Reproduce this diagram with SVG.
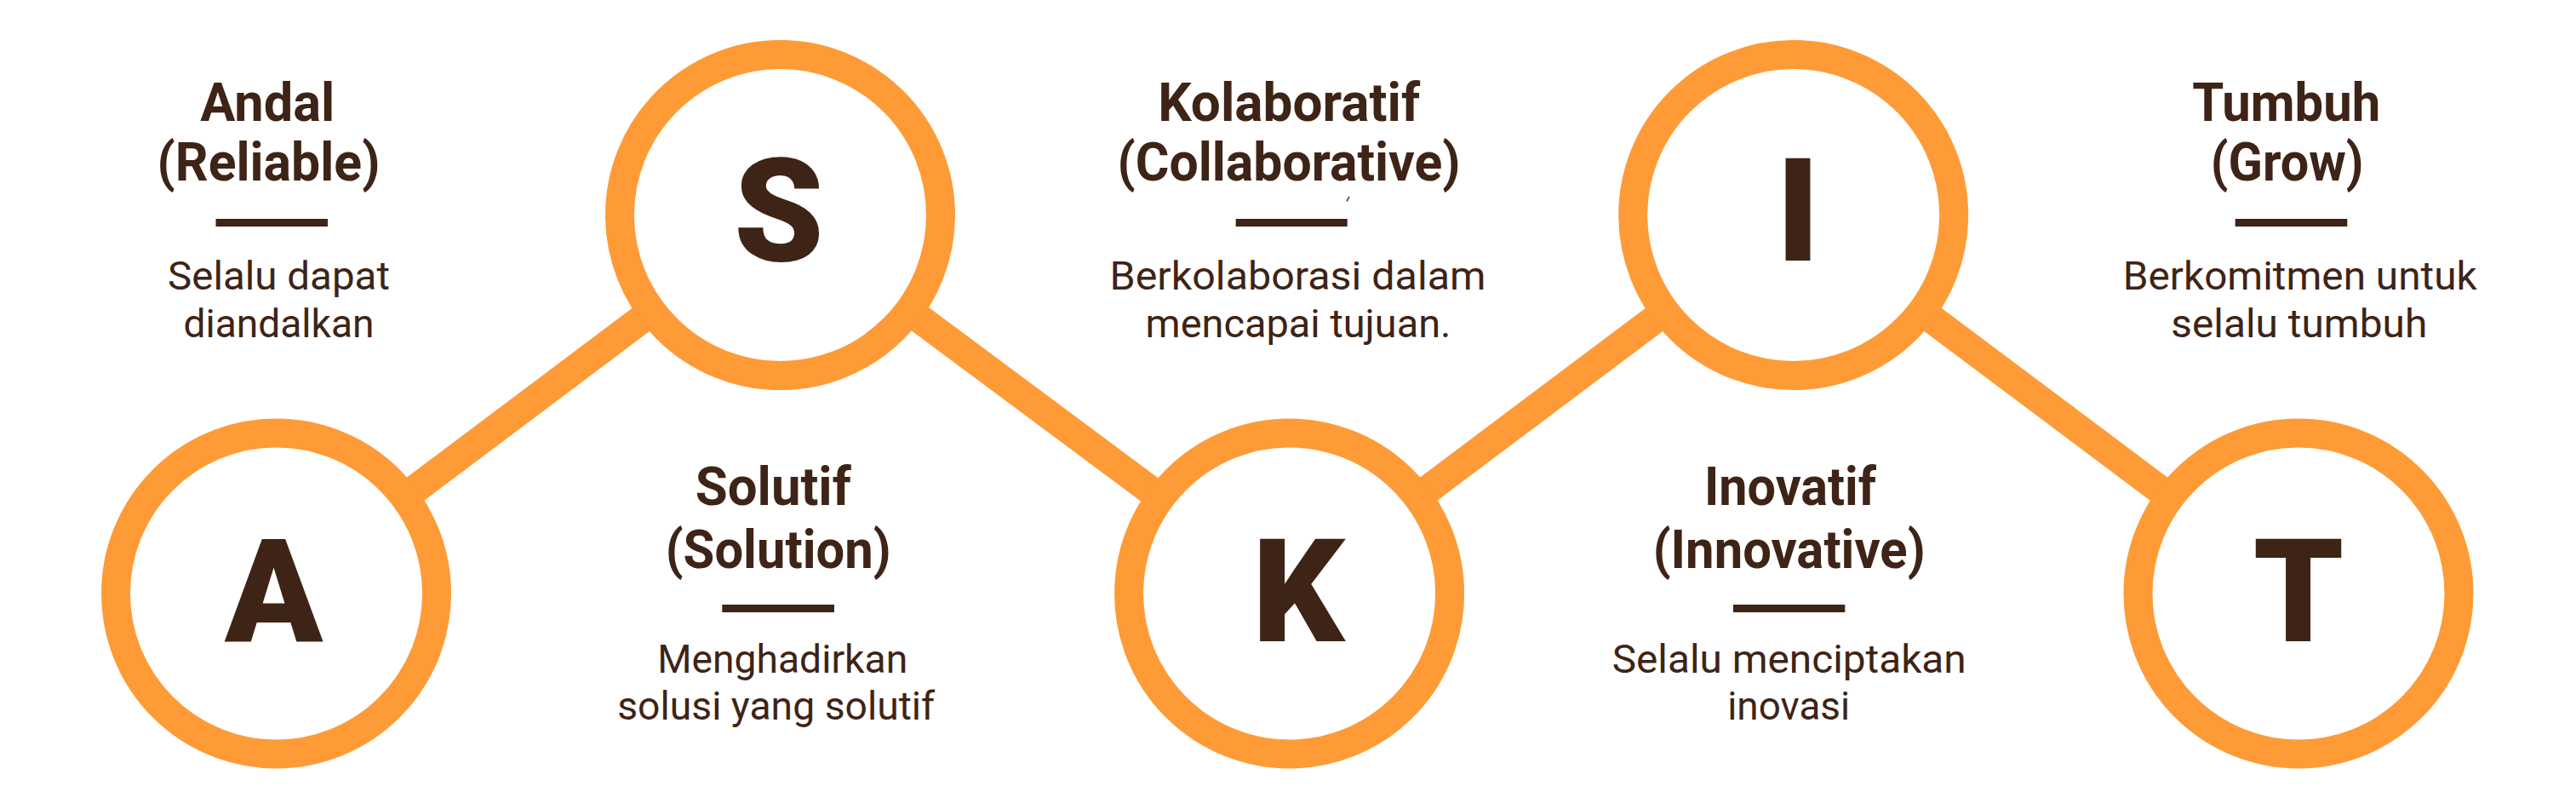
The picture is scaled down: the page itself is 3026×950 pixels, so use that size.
<svg xmlns="http://www.w3.org/2000/svg" width="3026" height="950" viewBox="0 0 3026 950">
<style>
.ring{fill:#ffffff;stroke:#FE9B37;stroke-width:34}
.conn{stroke:#FE9B37;stroke-width:34;fill:none}
.big{font-family:Roboto,"Liberation Sans",sans-serif;font-weight:900;font-size:169px;fill:#3E2416;text-anchor:middle}
.ttl{font-family:Roboto,"Liberation Sans",sans-serif;font-weight:700;font-size:63px;fill:#3E2416;text-anchor:middle}
.dsc{font-family:Roboto,"Liberation Sans",sans-serif;font-weight:400;font-size:46px;fill:#3E2416;text-anchor:middle}
.bar{fill:#3E2416}
</style>
<rect width="3026" height="950" fill="#ffffff"/>
<g id="connectors">
<line class="conn" x1="324.5" y1="697" x2="916.5" y2="252.6"/>
<line class="conn" x1="916.5" y1="252.6" x2="1514.6" y2="697"/>
<line class="conn" x1="1514.6" y1="697" x2="2106.7" y2="252.6"/>
<line class="conn" x1="2106.7" y1="252.6" x2="2700" y2="697"/>
</g>
<g id="node-A">
<circle class="ring" cx="324.5" cy="697" r="188.5"/>
<text class="big" x="321.5" y="753">A</text>
</g>
<g id="node-S">
<circle class="ring" cx="916.5" cy="252.6" r="188.5"/>
<text class="big" x="915" y="306">S</text>
</g>
<g id="node-K">
<circle class="ring" cx="1514.6" cy="697" r="188.5"/>
<text class="big" x="1525" y="753">K</text>
</g>
<g id="node-I">
<circle class="ring" cx="2106.7" cy="252.6" r="188.5"/>
<text class="big" x="2112" y="306">I</text>
</g>
<g id="node-T">
<circle class="ring" cx="2700" cy="697" r="188.5"/>
<text class="big" x="2700" y="753">T</text>
</g>
<g id="label-andal">
<text class="ttl" x="314.2" y="142" textLength="158" lengthAdjust="spacingAndGlyphs">Andal</text>
<text class="ttl" x="315.5" y="212" textLength="262" lengthAdjust="spacingAndGlyphs">(Reliable)</text>
<rect class="bar" x="253.5" y="257" width="131.5" height="9"/>
<text class="dsc" x="327.5" y="340" textLength="261" lengthAdjust="spacingAndGlyphs">Selalu dapat</text>
<text class="dsc" x="327.5" y="396" textLength="224" lengthAdjust="spacingAndGlyphs">diandalkan</text>
</g>
<g id="label-solutif">
<text class="ttl" x="908.3" y="593" textLength="183" lengthAdjust="spacingAndGlyphs">Solutif</text>
<text class="ttl" x="914.2" y="666.5" textLength="265" lengthAdjust="spacingAndGlyphs">(Solution)</text>
<rect class="bar" x="848.3" y="710" width="131.7" height="9"/>
<text class="dsc" x="919.2" y="790" textLength="294" lengthAdjust="spacingAndGlyphs">Menghadirkan</text>
<text class="dsc" x="911.7" y="845" textLength="373" lengthAdjust="spacingAndGlyphs">solusi yang solutif</text>
</g>
<g id="label-kolaboratif">
<text class="ttl" x="1514.2" y="142" textLength="308" lengthAdjust="spacingAndGlyphs">Kolaboratif</text>
<text class="ttl" x="1514" y="212" textLength="403" lengthAdjust="spacingAndGlyphs">(Collaborative)</text>
<path d="M1582 236.5 L1585 231" stroke="#3E2416" stroke-width="1.5" fill="none"/>
<rect class="bar" x="1451.7" y="257" width="131" height="9"/>
<text class="dsc" x="1524.5" y="340" textLength="442" lengthAdjust="spacingAndGlyphs">Berkolaborasi dalam</text>
<text class="dsc" x="1525" y="396" textLength="359" lengthAdjust="spacingAndGlyphs">mencapai tujuan.</text>
</g>
<g id="label-inovatif">
<text class="ttl" x="2103" y="593" textLength="202" lengthAdjust="spacingAndGlyphs">Inovatif</text>
<text class="ttl" x="2101.7" y="666.5" textLength="320" lengthAdjust="spacingAndGlyphs">(Innovative)</text>
<rect class="bar" x="2036" y="710" width="131.3" height="9"/>
<text class="dsc" x="2101.7" y="790" textLength="416" lengthAdjust="spacingAndGlyphs">Selalu menciptakan</text>
<text class="dsc" x="2101.2" y="845" textLength="144" lengthAdjust="spacingAndGlyphs">inovasi</text>
</g>
<g id="label-tumbuh">
<text class="ttl" x="2685.8" y="142" textLength="221" lengthAdjust="spacingAndGlyphs">Tumbuh</text>
<text class="ttl" x="2686.7" y="212" textLength="180" lengthAdjust="spacingAndGlyphs">(Grow)</text>
<rect class="bar" x="2625.7" y="257" width="131.6" height="9"/>
<text class="dsc" x="2701.7" y="340" textLength="416" lengthAdjust="spacingAndGlyphs">Berkomitmen untuk</text>
<text class="dsc" x="2700.8" y="396" textLength="301" lengthAdjust="spacingAndGlyphs">selalu tumbuh</text>
</g>
</svg>
